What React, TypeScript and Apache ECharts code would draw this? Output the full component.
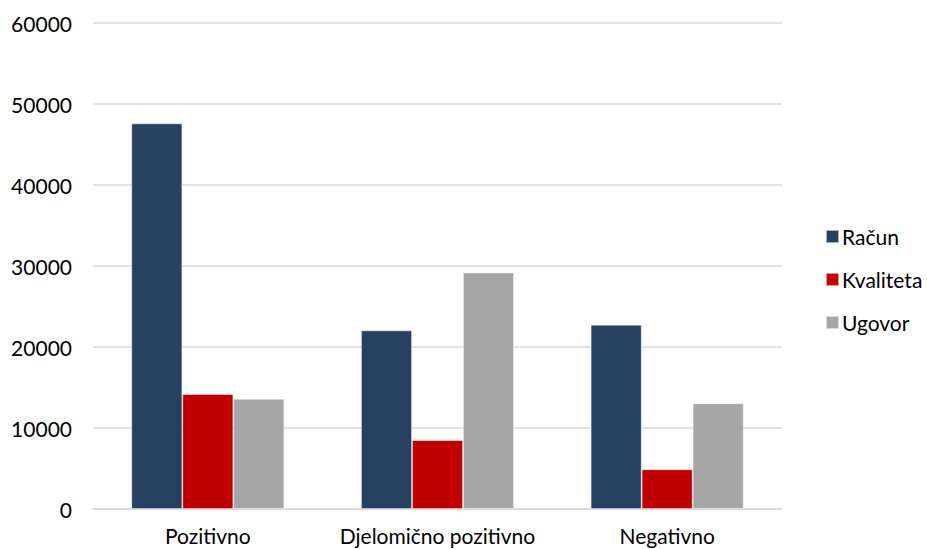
import React, { useEffect, useRef } from "react";
import * as echarts from "echarts";

const categories = ["Pozitivno", "Djelomično pozitivno", "Negativno"];
const seriesNames = ["Račun", "Kvaliteta", "Ugovor"];
const racun = [47600, 22050, 22750];
const kvaliteta = [14200, 8500, 4900];
const ugovor = [13600, 29200, 13050];
const colors = ["#264161", "#C00000", "#A6A6A6"];

export default function App() {
  const ref = useRef<HTMLDivElement>(null);
  useEffect(() => {
    if (!ref.current) return;
    const chart = echarts.init(ref.current, undefined, { renderer: "svg" });
    const font = "Lato, 'Open Sans', sans-serif";
    const data = [racun, kvaliteta, ugovor];
    chart.setOption({
      animation: false,
      textStyle: { fontFamily: font },
      grid: { left: 93, right: 145, top: 23, bottom: 40, containLabel: false },
      legend: {
        orient: "vertical",
        left: 820,
        top: 221,
        itemGap: 22,
        itemWidth: 13,
        itemHeight: 13,
        icon: "rect",
        textStyle: { fontSize: 21, color: "#000", fontFamily: font, padding: [0, 0, 0, -2] },
        data: seriesNames,
      },
      xAxis: {
        type: "category",
        data: categories,
        axisLine: { lineStyle: { color: "#d9d9d9", width: 1.5 } },
        axisTick: { show: false },
        axisLabel: { fontSize: 21, color: "#000", margin: 15, fontFamily: font, interval: 0, lineHeight: 22 },
      },
      yAxis: {
        type: "value",
        min: 0,
        max: 60000,
        interval: 10000,
        axisLine: { show: false },
        axisTick: { show: false },
        axisLabel: {
          fontSize: 21,
          color: "#000",
          margin: 21,
          fontFamily: font,
          formatter: (v: number) => String(v),
        },
        splitLine: { lineStyle: { color: "#d9d9d9", width: 1.5 } },
      },
      series: seriesNames.map((name, i) => ({
        name,
        type: "bar",
        data: data[i],
        barWidth: 51,
        barGap: "0%",
        itemStyle: { color: colors[i], borderColor: "rgba(255,255,255,0.6)", borderWidth: 0.8 },
      })),
    });
    return () => chart.dispose();
  }, []);
  return <div ref={ref} style={{ width: 927, height: 549, position: "absolute", left: 0, top: 0 }} />;
}
